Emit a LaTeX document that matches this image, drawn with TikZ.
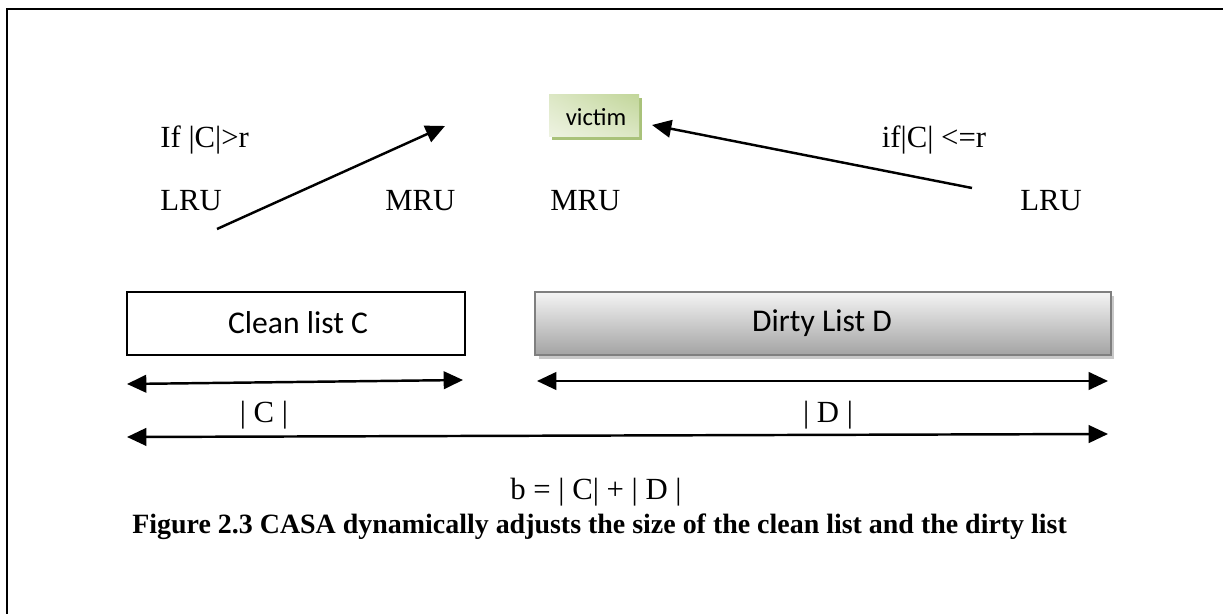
\documentclass[tikz,border=0pt]{standalone}
\usepackage{fontspec}
\setmainfont{Liberation Serif}
\newfontfamily\boxfont{Carlito}
\usetikzlibrary{arrows.meta,shadings}

\definecolor{victimlight}{HTML}{EEF3E2}
\definecolor{victimdark}{HTML}{C2D69A}
\definecolor{victimedge}{HTML}{A9C27A}
\definecolor{dirtytop}{HTML}{F4F4F4}
\definecolor{dirtybot}{HTML}{A3A3A3}
\definecolor{dirtyedge}{HTML}{7F7F7F}
\definecolor{dirtyshadow}{HTML}{C8C8C8}

\tikzset{
  lbl/.style={font=\fontsize{17.5}{20}\selectfont, inner sep=0pt},
  boxtext/.style={font=\boxfont\fontsize{18}{21}\selectfont, inner sep=0pt},
  smalltext/.style={font=\boxfont\fontsize{14}{17}\selectfont, inner sep=0pt},
  caption/.style={font=\bfseries\fontsize{15.9}{19}\selectfont, inner sep=0pt},
  conn/.style={line width=1.4pt, -{Triangle[length=11pt,width=10pt]}},
  dimarrow/.style={line width=1.4pt, {Triangle[length=11pt,width=10pt]}-{Triangle[length=11pt,width=10pt]}},
}

\begin{document}
\begin{tikzpicture}[x=0.02cm,y=-0.02cm]
\useasboundingbox (0,0) rectangle (1223,614);

% page frame
\draw[line width=1.2pt] (7,614) -- (7,9) -- (1223,9);

% victim box
\fill[victimedge] (552,98) rectangle (642,140);
\shade[lower left=victimlight, upper right=victimdark, lower right=victimlight!60!victimdark, upper left=victimlight!60!victimdark]
  (549,95) rectangle (639,137);
\node[smalltext] (victim) at (596,117) {victim};

% condition labels
\node[lbl, anchor=west] (ifgt) at (160,140) {If |C|>r};
\node[lbl] (ifle) at (934,140) {if|C| <=r};

% list ends
\node[lbl, anchor=west] (lru1) at (160,201) {LRU};
\node[lbl, anchor=west] (mru1) at (385,201) {MRU};
\node[lbl, anchor=west] (mru2) at (550,201) {MRU};
\node[lbl, anchor=west] (lru2) at (1020,201) {LRU};

% eviction arrows
\coordinate (cfrom) at (217,229);
\coordinate (cto) at (445,126);
\coordinate (dfrom) at (972,188);
\coordinate (dto) at (652,125);
\draw[conn] (cfrom) -- (cto);
\draw[conn] (dfrom) -- (dto);

% clean list
\draw[line width=0.9pt, fill=white] (127,292) rectangle (465,355);
\node[boxtext] (clean) at (298,323) {Clean list C};

% dirty list
\fill[dirtyshadow] (539,296) rectangle (1114,359);
\shade[top color=dirtytop, bottom color=dirtybot, draw=dirtyedge, line width=1pt]
  (535,292) rectangle (1111,355);
\node[boxtext] (dirty) at (822,323) {Dirty List D};

% size arrows
\coordinate (cl) at (127,384);
\coordinate (cr) at (463,380);
\coordinate (dl) at (537,381);
\coordinate (dr) at (1108,381);
\coordinate (bl) at (127,437);
\coordinate (br) at (1108,434);
\draw[dimarrow] (cl) -- (cr);
\draw[dimarrow] (dl) -- (dr);
\draw[dimarrow] (bl) -- (br);

\node[lbl] (csize) at (264,415) {| C |};
\node[lbl] (dsize) at (828,415) {| D |};
\node[lbl] (total) at (596,492) {b = | C| + | D |};

\node[caption, anchor=west] (cap) at (132,527) {Figure 2.3 CASA dynamically adjusts the size of the clean list and the dirty list};
\end{tikzpicture}
\end{document}
